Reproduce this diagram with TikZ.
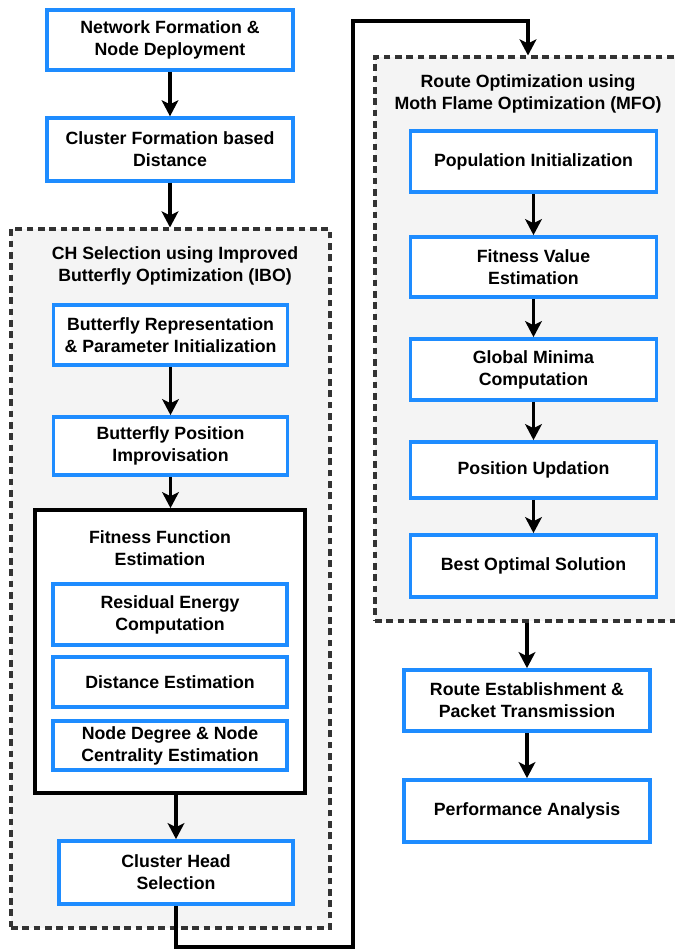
\documentclass[tikz,border=0pt]{standalone}
\usepackage{fontspec}
\setmainfont{Liberation Sans}
\usetikzlibrary{arrows.meta}
\definecolor{boxblue}{HTML}{1E8CFF}
\definecolor{panelgray}{HTML}{F4F4F4}

\begin{document}
\begin{tikzpicture}[x=0.75pt, y=-0.75pt,
  every node/.style = {font=\fontsize{13.3}{16.5}\selectfont\bfseries, align=center, inner sep=0pt},
  bluebox/.style = {draw=boxblue, line width=2.8pt, fill=white, minimum width=184.5pt, minimum height=45pt},
  innerbox/.style = {bluebox, minimum width=175.5pt},
  panel/.style = {draw=black!80, dash pattern=on 5pt off 3.5pt, line width=2.3pt, fill=panelgray},
  fitbox/.style = {draw=black, line width=2.8pt, fill=white},
  arw/.style = {-{Stealth[length=12pt, width=12.5pt, inset=3pt]}, line width=2.5pt}]

\useasboundingbox (0, 0) rectangle (675, 951);
\clip (0, 0) rectangle (675, 951);

% left column
\node[bluebox] (NF) at (170, 40) {Network Formation \&\\Node Deployment};
\node[bluebox, minimum height=47pt] (CF) at (170, 149.5) {Cluster Formation based\\Distance};

\node[panel, minimum width=239.25pt, minimum height=524.25pt] (CHpanel) at (170.5, 578.5) {};
\node (CHtitle) at (175, 265.5) {CH Selection using Improved\\Butterfly Optimization (IBO)};

\node[innerbox] (BR) at (170.5, 335) {Butterfly Representation\\\& Parameter Initialization};
\node[innerbox, minimum height=43.5pt] (BP) at (170.5, 446) {Butterfly Position\\Improvisation};

\node[fitbox, minimum width=202.5pt, minimum height=212.25pt] (FFbox) at (170, 651.5) {};
\node (FFtitle) at (160, 548) {Fitness Function\\Estimation};
\node[innerbox, minimum height=45.75pt] (RE) at (170, 614.5) {Residual Energy\\Computation};
\node[innerbox, minimum height=37.5pt] (DE) at (170, 682) {Distance Estimation};
\node[innerbox, minimum height=36.75pt] (ND) at (170, 745.5) {Node Degree \& Node\\Centrality Estimation};

\node[innerbox, minimum height=47.25pt] (CH) at (176, 872.5) {Cluster Head\\Selection};

% right column
\node[panel, minimum width=236.25pt, minimum height=423pt] (MFOpanel) at (532.5, 339) {};
\node (MFOtitle) at (528, 94) {Route Optimization using\\Moth Flame Optimization (MFO)};

\node[bluebox, minimum height=45.75pt] (PI) at (533.5, 161.5) {Population Initialization};
\node[bluebox] (FV) at (533.5, 267) {Fitness Value\\Estimation};
\node[bluebox, minimum height=45.75pt] (GM) at (533.5, 369.5) {Global Minima\\Computation};
\node[bluebox, minimum height=42pt] (PU) at (533.5, 470) {Position Updation};
\node[bluebox, minimum height=46.5pt] (BO) at (533.5, 566) {Best Optimal Solution};

\node[bluebox, minimum height=45.75pt] (RT) at (527, 700.5) {Route Establishment \&\\Packet Transmission};
\node[bluebox, minimum height=46.5pt] (PA) at (527, 811) {Performance Analysis};

\coordinate (c1) at (353, 947);
\coordinate (c2) at (353, 21);
\coordinate (c3) at (528, 21);

\draw[arw] (NF) -- (CF);
\draw[arw] (CF) -- (CF |- CHpanel.north);
\draw[arw] (BR) -- (BP);
\draw[arw] (BP) -- (BP |- FFbox.north);
\draw[arw] (FFbox.south -| CH) -- (CH);

\draw[arw] (CH.south) |- (c1) -- (c2) -- (c3) -- (c3 |- MFOpanel.north);

\draw[arw] (PI) -- (FV);
\draw[arw] (FV) -- (GM);
\draw[arw] (GM) -- (PU);
\draw[arw] (PU) -- (BO);
\draw[arw] (MFOpanel.south -| RT) -- (RT);
\draw[arw] (RT) -- (PA);

\end{tikzpicture}
\end{document}
